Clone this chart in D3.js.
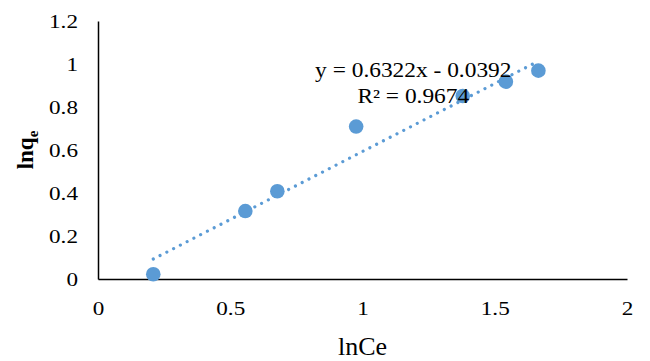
<!DOCTYPE html>
<html>
<head>
<meta charset="utf-8">
<script src="https://cdn.jsdelivr.net/npm/d3@7"></script>
<style>
    body { margin: 0; background: #fff; }
    svg text { font-family: "Liberation Serif", "Times New Roman", serif; fill: #000; }
</style>
</head>
<body>
<div id="chart"></div>
<script>
// data
const lnCe = [0.209, 0.557, 0.678, 0.976, 1.379, 1.542, 1.665];
const lnQe = [0.022, 0.316, 0.408, 0.709, 0.851, 0.918, 0.969];
const xTicks = [0, 0.5, 1, 1.5, 2];
const yTicks = [0, 0.2, 0.4, 0.6, 0.8, 1, 1.2];
const slope = 0.6322;
const intercept = -0.0392;
const eqLabel = "y = 0.6322x - 0.0392";
const r2Label = "R² = 0.9674";

const width = 650, height = 361;
const margin = { top: 21, right: 23, bottom: 82, left: 98 };
const innerW = width - margin.left - margin.right;
const innerH = height - margin.top - margin.bottom;
const blue = "#5b9bd5";
const stretch = 1.22; // the reference text is a bit wide

const svg = d3.select("#chart").append("svg")
    .attr("width", width)
    .attr("height", height);

const g = svg.append("g")
    .attr("transform", `translate(${margin.left}, ${margin.top})`);

const x = d3.scaleLinear().domain([0, 2]).range([0, innerW]);
const y = d3.scaleLinear().domain([0, 1.2]).range([innerH, 0]);

// axes
const yAxis = g.append("g")
    .call(d3.axisLeft(y).tickValues(yTicks).tickSize(0).tickSizeOuter(0)
        .tickPadding(20 / stretch).tickFormat(d3.format("")));
const xAxis = g.append("g")
    .attr("transform", `translate(0, ${innerH})`)
    .call(d3.axisBottom(x).tickValues(xTicks).tickSize(0).tickSizeOuter(0)
        .tickPadding(23).tickFormat(d3.format("")));

[xAxis, yAxis].forEach(ax => {
    ax.attr("font-family", null);
    ax.select(".domain").attr("stroke", "#000").attr("stroke-width", 1.5);
    ax.selectAll("text")
        .attr("font-family", "Liberation Serif")
        .style("font-size", "19px")
        .attr("fill", "#000")
        .attr("transform", `scale(${stretch}, 1)`);
});

// trendline
const xFit = [d3.min(lnCe), d3.max(lnCe)];
g.append("line")
    .attr("x1", x(xFit[0]))
    .attr("y1", y(slope * xFit[0] + intercept))
    .attr("x2", x(xFit[1]))
    .attr("y2", y(slope * xFit[1] + intercept))
    .attr("stroke", blue)
    .attr("stroke-width", 3.2)
    .attr("stroke-linecap", "round")
    .attr("stroke-dasharray", "0.01 7.6");

// points
g.selectAll(".pt")
    .data(lnCe.map((d, i) => [d, lnQe[i]]))
    .join("circle")
    .attr("class", "pt")
    .attr("cx", d => x(d[0]))
    .attr("cy", d => y(d[1]))
    .attr("r", 7.3)
    .attr("fill", blue);

// equation
const eqX = x(1.192), eqY = y(0.94);
const eq = g.append("g")
    .attr("transform", `translate(${eqX}, ${eqY}) scale(1.17, 1)`)
    .append("text")
    .attr("text-anchor", "middle")
    .style("font-size", "20px");
eq.append("tspan").attr("x", 0).attr("y", 0).text(eqLabel);
eq.append("tspan").attr("x", 0).attr("dy", 26).text(r2Label);

// axis titles
svg.append("text")
    .attr("x", margin.left + x(1))
    .attr("y", 355)
    .attr("text-anchor", "middle")
    .style("font-size", "26px")
    .text("lnCe");

const yt = svg.append("text")
    .attr("transform", "translate(33, 150) rotate(-90)")
    .attr("text-anchor", "middle")
    .style("font-size", "23px")
    .style("font-weight", "bold");
yt.append("tspan").text("lnq");
yt.append("tspan").attr("dy", 5).style("font-size", "15px").text("e");
</script>
</body>
</html>
